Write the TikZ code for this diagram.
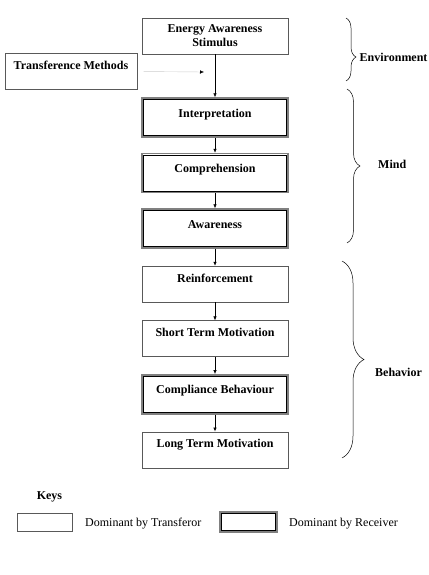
\documentclass[tikz,border=0pt]{standalone}
\usepackage{fontspec}
\setmainfont{Liberation Serif}
\usetikzlibrary{positioning,arrows.meta,decorations.pathreplacing}
\tikzset{
	basebox/.style={draw=black!65, line width=0.6pt, minimum width=146pt, font=\fontsize{12}{14}\selectfont\bfseries},
	tbox/.style={basebox, inner ysep=0pt, text height=16pt, text depth=20pt},
	rbox/.style={tbox, draw=black!50, line width=1.5pt, text height=19pt, text depth=20pt,
		append after command={\pgfextra{\draw[black, line width=0.5pt] ([shift={(2.3pt,-2.3pt)}]\tikzlastnode.north west) rectangle ([shift={(-2.3pt,2.3pt)}]\tikzlastnode.south east);}}},
	flow/.style={-{Latex[length=4pt,width=3.5pt]}, line width=0.6pt},
	faint/.style={-{Latex[length=4pt,width=3.5pt,black]}, draw=black!20, line width=0.4pt},
	curly/.style={decorate, decoration={brace, amplitude=#1}, line width=0.5pt},
	side/.style={anchor=west, inner sep=0pt, font=\fontsize{12}{14}\selectfont\bfseries},
}
\begin{document}
\begin{tikzpicture}[x=1pt, y=1pt]
	\useasboundingbox (0,0) rectangle (428,-575);
	
	\node[basebox, minimum height=36pt, align=center] (stim) at (215,-36) {Energy Awareness\\Stimulus};
	\node[tbox, minimum width=132pt] (trans) at (71,-71.5) {Transference Methods};
	\node[rbox, below=43pt of stim] (interp) {Interpretation};
	\node[rbox, below=15pt of interp] (compr) {Comprehension};
	\node[rbox, below=15pt of compr] (aware) {Awareness};
	\node[tbox, below=17pt of aware] (reinf) {Reinforcement};
	\node[tbox, below=18pt of reinf] (short) {Short Term Motivation};
	\node[rbox, below=17pt of short] (compl) {Compliance Behaviour};
	\node[tbox, below=17pt of compl] (longm) {Long Term Motivation};
	
	\foreach \a/\b in {stim/interp, interp/compr, compr/aware, aware/reinf, reinf/short, short/compl, compl/longm}
		\draw[flow] (\a.south) -- (\b.north);
	
	\coordinate (tip) at (204,-72);
	\draw[faint, shorten <=6pt] (trans.east) -- (tip);
	
	\coordinate (envtop) at (346,-18);
	\coordinate (envbot) at (346,-81);
	\coordinate (mindtop) at (347,-89);
	\coordinate (mindbot) at (347,-243);
	\coordinate (behtop) at (342,-261);
	\coordinate (behbot) at (342,-458);
	\draw[curly=10pt, decoration={aspect=0.62}] (envtop) -- (envbot);
	\draw[curly=13pt] (mindtop) -- (mindbot);
	\draw[curly=22pt] (behtop) -- (behbot);
	\node[side] (env) at (359.5,-57) {Environment};
	\node[side] (mind) at (378,-164) {Mind};
	\node[side] (beh) at (375,-372) {Behavior};
	
	\node[font=\fontsize{12}{14}\selectfont\bfseries] (keys) at (49.5,-497) {Keys};
	\node[draw=black!65, line width=0.6pt, minimum width=55pt, minimum height=18pt] (keyt) at (44.5,-522) {};
	\node[anchor=west, inner sep=0pt, font=\fontsize{12}{14}\selectfont] (keytl) at (85,-524) {Dominant by Transferor};
	\node[rbox, minimum width=57pt, text height=10pt, text depth=10pt] (keyr) at (248.5,-522) {};
	\node[anchor=west, inner sep=0pt, font=\fontsize{12}{14}\selectfont] (keyrl) at (289,-524) {Dominant by Receiver};
\end{tikzpicture}
\end{document}
